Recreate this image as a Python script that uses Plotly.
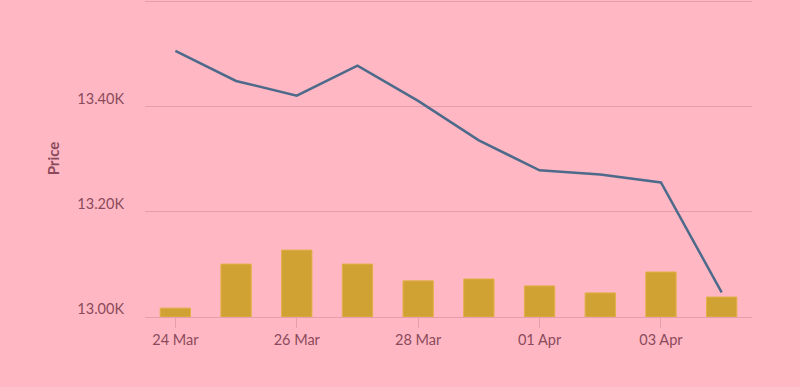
import plotly.graph_objects as go

dates = ["24 Mar", "25 Mar", "26 Mar", "27 Mar", "28 Mar",
         "31 Mar", "01 Apr", "02 Apr", "03 Apr", "04 Apr"]
price = [13506, 13449, 13421, 13478, 13411, 13336, 13279, 13271, 13256, 13047]
volume = [28, 167, 211, 167, 114, 120, 98, 76, 142, 63]

x_tick_labels = ["24 Mar", "26 Mar", "28 Mar", "01 Apr", "03 Apr"]
y_tick_vals = [13000, 13200, 13400, 13600]
y_tick_text = ["13.00K", "13.20K", "13.40K", ""]

text_color = "#8B4A5C"
grid_color = "#E3A0AC"
bg = "#FFB8C3"

fig = go.Figure()
fig.add_trace(go.Bar(
    x=dates, y=volume, yaxis="y2", width=0.5,
    marker=dict(color="#CFA233", line=dict(color="#E3B04A", width=1)),
    name="Volume", hoverinfo="skip",
))
fig.add_trace(go.Scatter(
    x=dates, y=price, mode="lines", name="Price",
    line=dict(color="#4D6A8B", width=2.5),
))

fig.update_layout(
    width=800, height=387,
    paper_bgcolor=bg, plot_bgcolor=bg,
    margin=dict(l=145, r=48, t=0, b=70),
    showlegend=False,
    font=dict(family="Lato", color=text_color, size=14.5),
    xaxis=dict(
        type="category", categoryorder="array", categoryarray=dates,
        tickvals=x_tick_labels, ticks="outside", ticklen=10, tickcolor=grid_color,
        showgrid=False, showline=True, linecolor=grid_color, linewidth=1,
        tickfont=dict(size=14.5, color=text_color),
    ),
    yaxis=dict(
        range=[13000, 13603], tickvals=y_tick_vals, ticktext=y_tick_text,
        showgrid=True, gridcolor=grid_color, gridwidth=1, zeroline=False,
        ticks="", ticklabelstandoff=20, ticklabelshift=-8,
        title=dict(text="<b>Price</b>", font=dict(size=15, color=text_color), standoff=14),
        tickfont=dict(size=14.5, color=text_color),
    ),
    yaxis2=dict(
        overlaying="y", side="right", range=[0, 1000],
        showgrid=False, showticklabels=False, zeroline=False,
    ),
    bargap=0.5,
)

fig.write_html(
    "out.html",
    config={"displayModeBar": False},
    post_script="document.body.style.margin='0';document.body.style.overflow='hidden';",
)
